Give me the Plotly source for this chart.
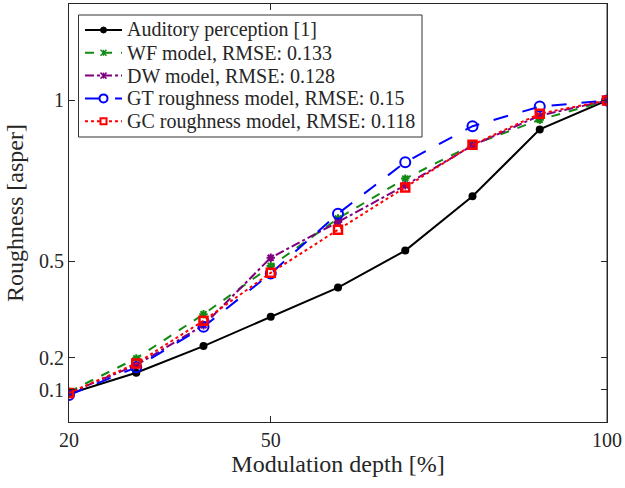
import plotly.graph_objects as go

depth = [20, 30, 40, 50, 60, 70, 80, 90, 100]
auditory = [0.088, 0.153, 0.236, 0.327, 0.418, 0.533, 0.702, 0.910, 1.0]
wf_model = [0.094, 0.198, 0.335, 0.485, 0.633, 0.757, 0.862, 0.940, 1.0]
dw_model = [0.090, 0.177, 0.301, 0.511, 0.622, 0.736, 0.860, 0.953, 1.0]
gt_model = [0.084, 0.170, 0.296, 0.462, 0.648, 0.808, 0.920, 0.981, 1.0]
gc_model = [0.090, 0.182, 0.315, 0.464, 0.598, 0.729, 0.862, 0.959, 1.0]

names = ["Auditory perception [1]", "WF model, RMSE: 0.133", "DW model, RMSE: 0.128",
         "GT roughness model, RMSE: 0.15", "GC roughness model, RMSE: 0.118"]
x_ticks = [20, 50, 100]
y_ticks = [0.1, 0.2, 0.5, 1]
y_tick_labels = ["0.1", "0.2", "0.5", "1"]

FONT = "Liberation Serif, Times New Roman, serif"
TXT = "#262626"

W, H = 625, 488
ML, MR, MT, MB = 69, 18, 4, 66
PW, PH = W - ML - MR, H - MT - MB


def px(X):
    return (X - ML) / PW


def py(Y):
    return (H - MB - Y) / PH


styles = [
    dict(color="black", dash="solid", sym="dot"),
    dict(color="#138a13", dash="dash", sym="star"),
    dict(color="#800080", dash="dashdot", sym="star"),
    dict(color="#0000ff", dash="longdash", sym="ocircle"),
    dict(color="#ff0000", dash="dot", sym="osquare"),
]

fig = go.Figure()
fig.add_trace(go.Scatter(x=depth, y=auditory, name=names[0], mode="lines+markers",
                         line=dict(color="black", width=2),
                         marker=dict(symbol="circle", size=8, color="black")))
fig.add_trace(go.Scatter(x=depth, y=wf_model, name=names[1], mode="lines+markers",
                         line=dict(color="#138a13", width=2, dash="dash"),
                         marker=dict(symbol="asterisk-open", size=7, color="#138a13",
                                     line=dict(color="#138a13", width=2))))
fig.add_trace(go.Scatter(x=depth, y=dw_model, name=names[2], mode="lines+markers",
                         line=dict(color="#800080", width=2, dash="dashdot"),
                         marker=dict(symbol="asterisk-open", size=7, color="#800080",
                                     line=dict(color="#800080", width=2))))
fig.add_trace(go.Scatter(x=depth, y=gt_model, name=names[3], mode="lines+markers",
                         line=dict(color="#0000ff", width=2, dash="longdash"),
                         marker=dict(symbol="circle-open", size=10, color="#0000ff",
                                     line=dict(color="#0000ff", width=2))))
fig.add_trace(go.Scatter(x=depth, y=gc_model, name=names[4], mode="lines+markers",
                         line=dict(color="#ff0000", width=2, dash="dot"),
                         marker=dict(symbol="square-open", size=8, color="#ff0000",
                                     line=dict(color="#ff0000", width=2.5))))

fig.update_layout(
    width=W, height=H,
    margin=dict(l=ML, r=MR, t=MT, b=MB),
    paper_bgcolor="white", plot_bgcolor="white",
    font=dict(family=FONT, size=20, color=TXT),
    showlegend=False,
)
fig.update_xaxes(range=[20, 100], tickvals=x_ticks, ticktext=[str(v) for v in x_ticks],
                 ticks="inside", ticklen=6, tickcolor=TXT, showgrid=False,
                 zeroline=False, showline=True, linecolor=TXT, linewidth=1,
                 mirror="ticks",
                 title=dict(text="Modulation depth [%]", font=dict(size=24), standoff=4),
                 tickfont=dict(size=20))
fig.update_yaxes(range=[0, 1.3], tickvals=y_ticks, ticktext=y_tick_labels,
                 ticks="inside", ticklen=6, tickcolor=TXT, showgrid=False,
                 zeroline=False, showline=True, linecolor=TXT, linewidth=1,
                 mirror="ticks",
                 title=dict(text="Roughness [asper]", font=dict(size=24), standoff=8),
                 tickfont=dict(size=20))
fig.add_shape(type="line", xref="paper", yref="paper", x0=1, x1=1, y0=0, y1=1,
              line=dict(color="#999999", width=2), layer="below")

# hand-built legend box (MATLAB style, compact rows)
LX0, LX1, LY0, LY1 = 78.5, 422, 15, 137
fig.add_shape(type="rect", xref="paper", yref="paper",
              x0=px(LX0), x1=px(LX1), y0=py(LY1), y1=py(LY0),
              line=dict(color="#333333", width=1), fillcolor="white", layer="above")
row_y = [30, 52.8, 75.6, 98.4, 121.2]
S0, S1 = 85, 122
for name, st, Y in zip(names, styles, row_y):
    c = st["color"]
    fig.add_shape(type="line", xref="paper", yref="paper",
                  x0=px(S0), x1=px(S1), y0=py(Y), y1=py(Y),
                  line=dict(color=c, width=2, dash=st["dash"]), layer="above")
    mx = (S0 + S1) / 2
    if st["sym"] == "dot":
        r = 3
        fig.add_shape(type="circle", xref="paper", yref="paper",
                      x0=px(mx - r), x1=px(mx + r), y0=py(Y + r), y1=py(Y - r),
                      line=dict(color=c, width=1), fillcolor=c, layer="above")
    elif st["sym"] == "star":
        r = 3
        for dx, dy in [(r, r), (r, -r), (0, r)]:
            fig.add_shape(type="line", xref="paper", yref="paper",
                          x0=px(mx - dx), x1=px(mx + dx), y0=py(Y - dy), y1=py(Y + dy),
                          line=dict(color=c, width=1.5), layer="above")
    elif st["sym"] == "ocircle":
        r = 4
        fig.add_shape(type="circle", xref="paper", yref="paper",
                      x0=px(mx - r), x1=px(mx + r), y0=py(Y + r), y1=py(Y - r),
                      line=dict(color=c, width=2), fillcolor="white", layer="above")
    else:
        r = 3
        fig.add_shape(type="rect", xref="paper", yref="paper",
                      x0=px(mx - r), x1=px(mx + r), y0=py(Y + r), y1=py(Y - r),
                      line=dict(color=c, width=2), fillcolor="white", layer="above")
    fig.add_annotation(text=name, xref="paper", yref="paper", x=px(125), y=py(Y),
                       xanchor="left", yanchor="middle", showarrow=False,
                       font=dict(family=FONT, size=20, color=TXT))

fig.write_html("out.html")
